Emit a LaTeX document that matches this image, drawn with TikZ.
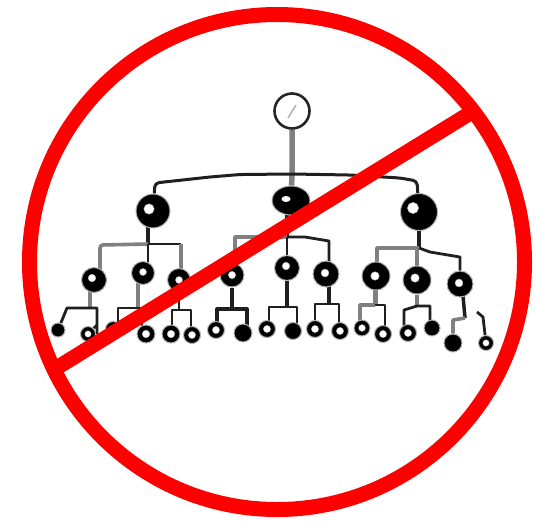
\documentclass[tikz,border=0pt]{standalone}
\usetikzlibrary{shapes.geometric,backgrounds}
\definecolor{nored}{RGB}{255,0,0}
\tikzset{
  x=1pt,y=-1pt,
  wire/.style={draw=black!88,line width=2.8pt,line join=round},
  softwire/.style={draw=black!50,line width=3.6pt,line join=round},
  blob/.style={circle,fill=black,draw=black!30,line width=1pt,inner sep=0pt,minimum size=#1},
  prohibit/.style={draw=nored,line width=15pt}
}
\newcommand{\hnode}[6]{% name, x, y, diameter, hole dx, hole dy
  \node[blob=#4pt] (#1) at (#2,#3) {};
  \fill[white,draw=black!25,line width=0.5pt] (#2+#5,#3+#6) circle (0.15*#4);
}
\newcommand{\leafring}[4]{% name x y d
  \node[blob=#4pt] (#1) at (#2,#3) {};
  \fill[white,draw=black!25,line width=0.4pt] (#2,#3) circle (0.21*#4);
}
\begin{document}
\begin{tikzpicture}
\useasboundingbox (0,0) rectangle (537,520);
% nodes
\node[circle,draw=black!85,line width=2.6pt,fill=white,inner sep=0pt,minimum size=35pt] (root) at (292,111) {};
\draw[black!30,line width=1.5pt] (288,118) -- (296,105);
\hnode{A}{153}{211}{34}{-4}{-2}
\node[ellipse,fill=black,draw=black!30,line width=1pt,inner sep=0pt,minimum width=38pt,minimum height=29pt] (B) at (291,200.5) {};
\fill[white] (286,199) ellipse (4.5 and 3);
\hnode{C}{419}{212}{37}{-6}{-4}
\hnode{a1}{94}{280}{25}{-2}{-2}
\hnode{a2}{143}{273}{23}{0}{-1}
\hnode{a3}{179}{280}{23}{0}{0}
\hnode{b1}{232}{275}{24}{0}{0}
\hnode{b2}{287}{268}{25}{-1}{-2}
\hnode{b3}{326}{274}{26}{-1}{-1}
\hnode{c1}{376}{276}{28}{-1}{0}
\hnode{c2}{417}{280}{28}{-2}{-2}
\hnode{c3}{460}{284}{26}{-1}{-1}
\node[blob=14pt] (l1) at (58,330) {};
\leafring{l2}{88}{334}{15}
\leafring{l3}{113}{329}{15}
\leafring{l4}{146}{334}{18}
\leafring{l5}{171}{334}{18}
\leafring{l6}{192}{335}{17}
\leafring{l7}{216}{330}{17}
\node[blob=18pt] (l8) at (243,333) {};
\leafring{l9}{267}{329}{17}
\node[blob=17pt] (l10) at (293,331) {};
\leafring{l11}{315}{329}{17}
\leafring{l12}{340}{331}{17}
\leafring{l13}{362}{328}{16}
\leafring{l14}{383}{334}{17}
\leafring{l15}{408}{333}{17}
\node[blob=16pt] (l16) at (432,328) {};
\node[blob=18pt] (l17) at (453,343) {};
\leafring{l18}{486}{343}{15}
\begin{pgfonlayer}{background}
\fill[white] (0,0) rectangle (537,520);
% top connectors
\coordinate (rootbus) at (292,174);
\coordinate (afree) at (477,312);
\draw[softwire,line width=5.5pt] (root) -- (rootbus) -- (B);
\draw[wire,line width=3pt,rounded corners=4pt] (A) -- (155,183) -- (210,177) -- (240,174.5) -- (rootbus) -- (350,175) -- (400,178) -- (417,181) -- (C);
% A subtree
\coordinate (Abus) at (148,244);
\draw[wire,line width=3.5pt] (Abus |- A) -- (Abus);
\draw[softwire,rounded corners=3pt] (a1) -- (100,280) -- (100,245) -- (Abus);
\draw[wire] (Abus) -- (148,273);
\draw[wire] (Abus) -- (181,244);
\draw[softwire] (181,244) -- (181,280);
% B subtree
\coordinate (Bbus) at (287,237);
\draw[wire,line width=3.5pt] (Bbus |- B) -- (Bbus);
\draw[softwire] (Bbus) -- (235,237) -- (235,275);
\draw[wire] (Bbus) -- (b2);
\draw[wire] (Bbus) -- (305,237) -- (329,241) -- (329,274);
% C subtree
\coordinate (Cbus) at (419,248);
\draw[wire,line width=3.5pt] (C) -- (Cbus);
\draw[softwire] (Cbus) -- (377,248) -- (377,276);
\draw[softwire] (417,248) -- (c2);
\draw[wire] (Cbus) -- (430,252) -- (460,257) -- (c3);
% lower level
\coordinate (a1b) at (90,308);
\draw[softwire] (90,280) -- (a1b);
\draw[wire] (l1) -- (67,308) -- (97,308) -- (97,334);
\draw[wire] (97,325) -- (l2);
\coordinate (a2b) at (138,308);
\draw[softwire] (138,273) -- (a2b);
\draw[wire] (118,329) -- (118,308) -- (142,308) -- (142,330);
\coordinate (a3b) at (179,310);
\draw[wire] (a3) -- (a3b);
\draw[wire] (172,334) -- (172,310) -- (191,310) -- (191,335);
\coordinate (b1b) at (232,309);
\draw[wire,line width=4pt] (b1) -- (b1b);
\draw[wire,line width=3.4pt] (217,330) -- (217,309) -- (247,309) -- (247,333);
\coordinate (b2b) at (287,307);
\draw[wire,line width=3.2pt] (b2) -- (b2b);
\draw[wire] (269,329) -- (269,307) -- (297,307) -- (297,331);
\coordinate (b3b) at (329,304);
\draw[wire,line width=4pt] (329,274) -- (b3b);
\draw[wire] (315,329) -- (315,304) -- (339,304) -- (339,331);
\coordinate (c1b) at (375,305);
\draw[softwire,line width=5pt] (375,276) -- (c1b);
\draw[softwire] (360,328) -- (360,305) -- (c1b);
\draw[wire] (c1b) -- (385,305) -- (385,334);
\coordinate (c2b) at (417,306);
\draw[softwire,line width=4pt] (c2) -- (c2b);
\draw[wire] (404,333) -- (404,310) -- (c2b) -- (430,306) -- (430,328);
\coordinate (c3b) at (465,318);
\draw[wire,line width=3.5pt] (463,284) -- (463,296) -- (c3b);
\draw[softwire] (c3b) -- (453,320) -- (l17);
\draw[wire] (afree) -- (483,317) -- (l18);
\end{pgfonlayer}
% prohibition sign
\coordinate (bandL) at (58,367);
\coordinate (bandR) at (472,112);
\draw[prohibit] (bandL) -- (bandR);
\node[circle,prohibit,fill=none,inner sep=0pt,minimum size=495pt,outer sep=0pt] (ring) at (277,262) {};
\end{tikzpicture}
\end{document}
